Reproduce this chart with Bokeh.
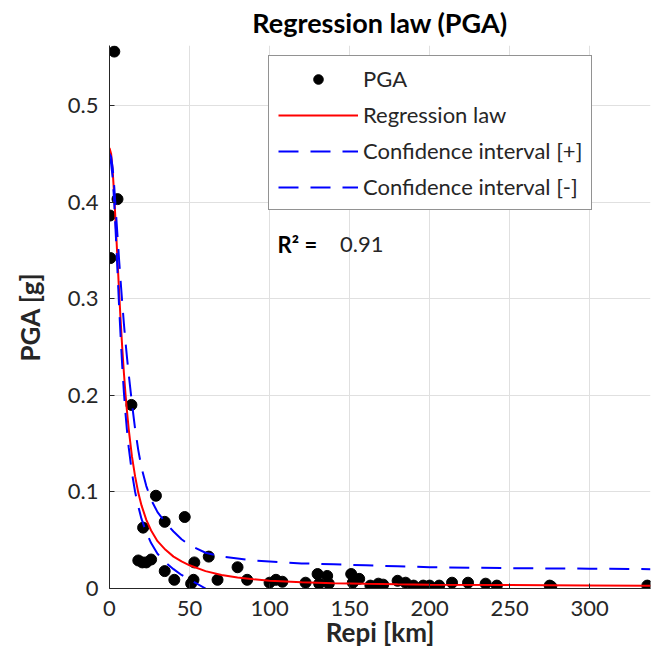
from bokeh.plotting import figure
from bokeh.models import Range1d, FixedTicker, Legend, LegendItem, Label, Title
from bokeh.embed import file_html
from bokeh.resources import INLINE

# ---- observed data (Repi [km], PGA [g]) ----
R_obs = [0.3, 0.6, 3, 5, 13.7, 18, 20.5, 21, 23, 26, 29, 34.5, 34.5, 40.5, 47,
         51, 52.5, 53, 62, 67.5, 80, 86, 100, 104, 108, 122.5, 130, 131, 136,
         137, 151, 152, 156, 163, 168, 171, 180, 185, 190, 196, 200, 206, 214,
         224, 235, 242, 275, 276, 336]
PGA_obs = [0.386, 0.342, 0.5557, 0.403, 0.190, 0.029, 0.027, 0.063, 0.027, 0.030,
           0.096, 0.069, 0.018, 0.009, 0.074, 0.005, 0.009, 0.027, 0.033, 0.009,
           0.022, 0.009, 0.006, 0.009, 0.007, 0.006, 0.015, 0.005, 0.013, 0.005,
           0.015, 0.006, 0.010, 0.003, 0.005, 0.004, 0.008, 0.006, 0.003, 0.003,
           0.003, 0.003, 0.006, 0.006, 0.005, 0.003, 0.003, 0.002, 0.003]

# ---- regression law and confidence bounds ----
R_fit = [0, 1, 2, 3, 4, 5, 6, 7, 8, 9, 10, 11, 12, 14, 16, 18, 20, 23, 26, 30,
         35, 40, 45, 50, 60, 70, 80, 90, 100, 120, 140, 160, 180, 200, 250, 300, 338]
law = [0.456, 0.450, 0.432, 0.405, 0.373, 0.340, 0.307, 0.276, 0.248, 0.223,
       0.201, 0.182, 0.165, 0.137, 0.116, 0.099, 0.086, 0.071, 0.060, 0.049,
       0.040, 0.033, 0.028, 0.024, 0.018, 0.014, 0.0115, 0.0095, 0.008, 0.0065,
       0.0055, 0.0048, 0.0043, 0.004, 0.0035, 0.003, 0.0028]
ci_plus = [0.450, 0.447, 0.435, 0.415, 0.390, 0.365, 0.340, 0.317, 0.295, 0.274,
           0.255, 0.238, 0.222, 0.192, 0.165, 0.143, 0.125, 0.106, 0.092, 0.079,
           0.068, 0.059, 0.051, 0.045, 0.037, 0.033, 0.031, 0.029, 0.028, 0.026,
           0.025, 0.024, 0.023, 0.022, 0.021, 0.0205, 0.020]
R_lo = [0, 1, 2, 3, 4, 5, 6, 7, 8, 9, 10, 11, 12, 14, 16, 18, 20, 23, 26, 30,
        35, 40, 45, 50, 60]
ci_minus = [0.446, 0.440, 0.425, 0.398, 0.364, 0.328, 0.292, 0.259, 0.229, 0.203,
            0.181, 0.162, 0.146, 0.120, 0.100, 0.085, 0.072, 0.058, 0.047, 0.036,
            0.027, 0.020, 0.014, 0.0095, 0.0]

x_ticks = [0, 50, 100, 150, 200, 250, 300]
x_tick_labels = ["0", "50", "100", "150", "200", "250", "300"]
y_ticks = [0, 0.1, 0.2, 0.3, 0.4, 0.5]
y_tick_labels = ["0", "0.1", "0.2", "0.3", "0.4", "0.5"]
title_text = "Regression law (PGA)"
r2_value = "0.91"

FONT = "Lato"
AX = "#262626"

p = figure(width=654, height=661, output_backend="svg", toolbar_location=None,
           x_range=Range1d(0, 338), y_range=Range1d(0, 0.562),
           min_border_left=109, min_border_right=4, min_border_top=43,
           min_border_bottom=73)
p.outline_line_color = None
p.background_fill_color = "white"

p.add_layout(Title(text=title_text, align="center", vertical_align="top",
                   text_font=FONT, text_font_size="27px", text_font_style="bold",
                   text_color="black", standoff=10), "above")

for ax in (p.xaxis[0], p.yaxis[0]):
    ax.axis_line_color = AX
    ax.major_tick_line_color = AX
    ax.major_tick_in = 5
    ax.major_tick_out = 0
    ax.minor_tick_line_color = None
    ax.major_label_text_font = FONT
    ax.major_label_text_font_size = "22px"
    ax.major_label_text_color = AX
    ax.axis_label_text_font = FONT
    ax.axis_label_text_font_size = "26px"
    ax.axis_label_text_font_style = "bold"
    ax.axis_label_text_color = AX

p.xaxis[0].ticker = FixedTicker(ticks=x_ticks)
p.xaxis[0].major_label_overrides = dict(zip(x_ticks, x_tick_labels))
p.yaxis[0].ticker = FixedTicker(ticks=y_ticks)
p.yaxis[0].major_label_overrides = dict(zip(y_ticks, y_tick_labels))
p.xaxis[0].axis_label = "Repi [km]"
p.yaxis[0].axis_label = "PGA [g]"
p.xaxis[0].major_label_standoff = 12
p.xaxis[0].axis_label_standoff = -3
p.yaxis[0].major_label_standoff = 11
p.yaxis[0].axis_label_standoff = 19

p.xgrid.grid_line_color = "#e0e0e0"
p.ygrid.grid_line_color = "#e0e0e0"

r_pts = p.scatter(R_obs, PGA_obs, size=11, color="black")
r_law = p.line(R_fit, law, line_color="#ff0000", line_width=2)
r_cp = p.line(R_fit, ci_plus, line_color="#0000ff", line_width=2, line_dash="20 12")
r_cm = p.line(R_lo, ci_minus, line_color="#0000ff", line_width=2, line_dash="20 12")

legend = Legend(items=[
    LegendItem(label="PGA", renderers=[r_pts]),
    LegendItem(label="Regression law", renderers=[r_law]),
    LegendItem(label="Confidence interval [+]", renderers=[r_cp]),
    LegendItem(label="Confidence interval [-]", renderers=[r_cm]),
], location=(159, 378))
legend.label_text_font = FONT
legend.label_text_font_size = "22px"
legend.label_text_color = AX
legend.glyph_width = 80
legend.glyph_height = 24
legend.label_height = 24
legend.spacing = 9
legend.padding = 9
legend.label_standoff = 5
legend.border_line_color = AX
legend.border_line_width = 1
legend.background_fill_color = "white"
legend.background_fill_alpha = 1
p.add_layout(legend, "center")

p.add_layout(Label(x=105, y=0.356, text="R² =", text_font=FONT,
                   text_font_size="22px", text_font_style="bold",
                   text_color="black", text_baseline="middle"))
p.add_layout(Label(x=144, y=0.356, text=r2_value, text_font=FONT,
                   text_font_size="22px", text_color=AX, text_baseline="middle"))

open("out.html", "w").write(file_html(p, INLINE))
